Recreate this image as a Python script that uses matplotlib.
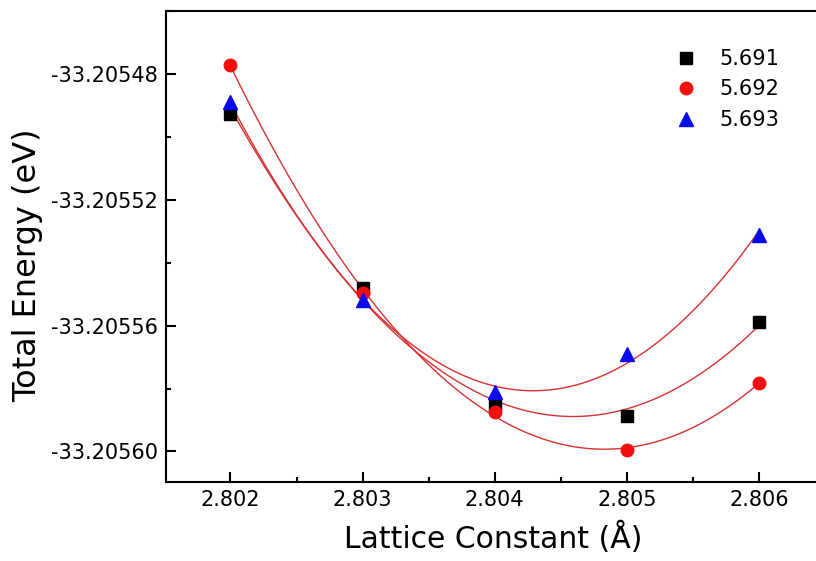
import numpy as np
import matplotlib
matplotlib.use('Agg')
from matplotlib import pyplot as plt
from matplotlib.ticker import MultipleLocator, FormatStrFormatter

plt.rcParams['font.family'] = ['DejaVu Sans']
plt.rcParams['axes.unicode_minus'] = False

# lattice constant (A) and total energy (eV) for three c values
lattice = [2.802, 2.803, 2.804, 2.805, 2.806]
e_5691 = [-33.2054927, -33.2055479, -33.2055852, -33.2055886, -33.2055587]
e_5692 = [-33.2054771, -33.2055496, -33.2055875, -33.2055994, -33.2055783]
e_5693 = [-33.2054888, -33.2055520, -33.2055812, -33.2055690, -33.2055311]
labels = ['5.691', '5.692', '5.693']

series = [e_5691, e_5692, e_5693]
markers = ['s', 'o', '^']
colors = ['black', '#f01010', '#0a0aee']
sizes = [8.5, 9, 10]

fig = plt.figure(figsize=(8.16, 5.61), dpi=100)
ax = fig.add_axes([0.2034, 0.1414, 0.7966, 0.839])

x = np.array(lattice)
xs = np.linspace(x[0], x[-1], 200)
for e in series:
    # second order polynomial fit, like the original
    p = np.polyfit(x - 2.804, np.array(e) + 33.2055, 2)
    ax.plot(xs, np.polyval(p, xs - 2.804) - 33.2055, color='#d83030', lw=1.0, zorder=1)

for e, m, c, s, lab in zip(series, markers, colors, sizes, labels):
    ax.plot(lattice, e, ls='none', marker=m, color=c, ms=s, label=lab, zorder=3)

ax.set_xlim(2.801512, 2.806432)
ax.set_ylim(-33.2056096, -33.20546)

ax.xaxis.set_major_locator(MultipleLocator(0.001))
ax.xaxis.set_minor_locator(MultipleLocator(0.0005))
ax.yaxis.set_major_locator(MultipleLocator(0.00004))
ax.yaxis.set_minor_locator(MultipleLocator(0.00002))
ax.xaxis.set_major_formatter(FormatStrFormatter('%.3f'))
ax.yaxis.set_major_formatter(FormatStrFormatter('%.5f'))

ax.tick_params(which='both', direction='in', top=False, right=False, width=1.5)
ax.tick_params(which='major', length=7, labelsize=15, pad=6)
ax.tick_params(which='minor', length=3.5)
ax.spines['right'].set_visible(False)
for sp in ['left', 'bottom', 'top']:
    ax.spines[sp].set_linewidth(1.5)

fig.text(493 / 816, 1 - 548 / 561, 'Lattice Constant (Å)', fontsize=21.5,
         ha='center', va='baseline')
fig.text(28 / 816, 1 - 265 / 561, 'Total Energy (eV)', fontsize=23,
         ha='center', va='center', rotation=90)

ax.legend(loc='upper left', bbox_to_anchor=(676 / 816, 1 - 49 / 561),
          bbox_transform=fig.transFigure, frameon=False, fontsize=15,
          numpoints=1, handlelength=1.0, handletextpad=1.1, labelspacing=0.5,
          borderpad=0, borderaxespad=0)

fig.savefig('out.png', dpi=100)
